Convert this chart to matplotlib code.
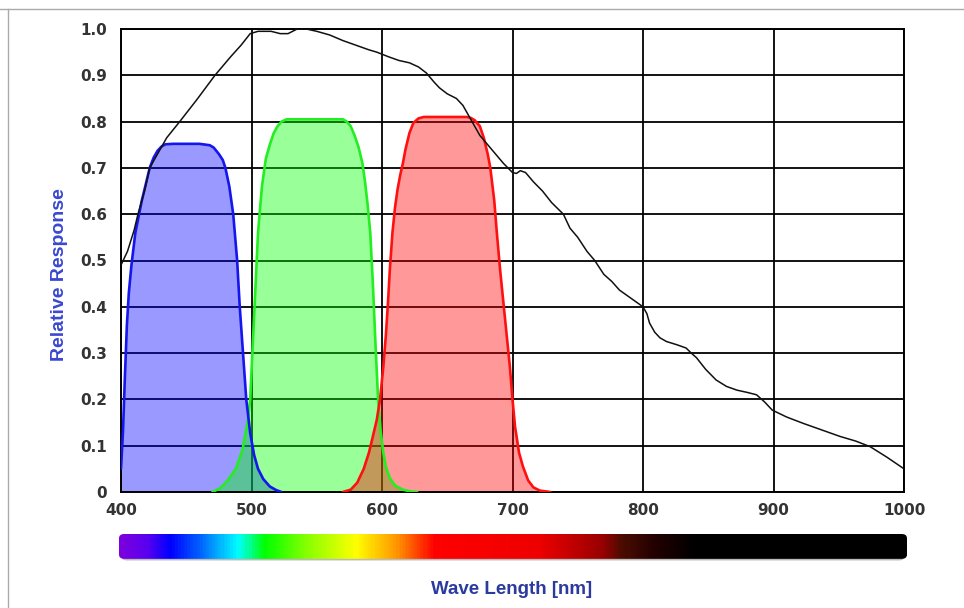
import numpy as np
import matplotlib
matplotlib.use("Agg")
import matplotlib.pyplot as plt
from matplotlib.colors import LinearSegmentedColormap
from matplotlib.patches import FancyBboxPatch
from matplotlib.lines import Line2D

# ---------------- data ----------------
blue_wl = [400, 401.5, 403, 404.5, 406, 408, 411, 416, 422, 425, 428, 431, 434, 440, 460, 468,
           471, 475, 478, 480, 483, 486, 489, 491, 494, 496, 499, 502, 505, 509, 514, 519, 523]
blue_val = [0.05, 0.13, 0.25, 0.36, 0.43, 0.49, 0.56, 0.63, 0.70, 0.722, 0.737, 0.746, 0.751,
            0.752, 0.752, 0.749, 0.744, 0.73, 0.717, 0.70, 0.66, 0.60, 0.50, 0.40, 0.28, 0.20,
            0.127, 0.08, 0.05, 0.028, 0.012, 0.004, 0.0]

green_wl = [470, 476, 482, 488, 493, 497, 499, 502, 505, 508, 511, 514, 517, 520, 523, 527,
            570, 573, 576, 579, 582, 585, 587, 589, 591, 593, 595, 597, 599, 601, 603,
            606, 610, 616, 622, 627]
green_val = [0.0, 0.008, 0.026, 0.05, 0.09, 0.15, 0.20, 0.38, 0.56, 0.66, 0.72, 0.75, 0.775,
             0.79, 0.80, 0.805, 0.805, 0.80, 0.79, 0.77, 0.745, 0.71, 0.67, 0.62, 0.56,
             0.45, 0.32, 0.20, 0.13, 0.085, 0.054, 0.03, 0.014, 0.005, 0.001, 0.0]

red_wl = [570, 576, 581, 586, 590, 593, 596, 598.5, 601, 603, 604.6, 606, 608, 610, 612, 614,
          616, 618, 621, 624, 628, 632, 665, 668, 671, 675, 678, 681, 683, 686, 688, 690.5,
          693, 695.5, 698, 700, 702, 705, 708, 712, 716, 721, 729]
red_val = [0.0, 0.005, 0.02, 0.05, 0.085, 0.12, 0.156, 0.20, 0.27, 0.34, 0.41, 0.48, 0.56,
           0.615, 0.655, 0.685, 0.71, 0.74, 0.775, 0.797, 0.807, 0.81, 0.81, 0.808, 0.803,
           0.79, 0.765, 0.73, 0.70, 0.63, 0.56, 0.48, 0.41, 0.34, 0.27, 0.20, 0.14, 0.085,
           0.055, 0.025, 0.01, 0.003, 0.0]

sensor_wl = [400, 405, 410, 413, 418, 422, 428, 435, 445, 458, 472, 484, 492, 499, 505, 515,
             522, 528, 535, 542, 550, 560, 570, 580, 590, 596, 605, 613, 621, 628, 634, 640,
             644, 650, 657, 662, 667, 675, 684, 693, 700, 703, 706, 710, 716, 723, 730, 739,
             744, 750, 757, 763, 770, 776, 782, 790, 800, 803, 805, 809, 813, 818, 826, 833,
             837, 841, 848, 856, 864, 872, 880, 887, 893, 899, 910, 923, 937, 951, 963, 974,
             987, 999]
sensor_val = [0.49, 0.52, 0.565, 0.60, 0.65, 0.70, 0.73, 0.765, 0.80, 0.847, 0.90, 0.94, 0.965,
              0.99, 0.995, 0.995, 0.99, 0.99, 1.0, 1.0, 0.995, 0.987, 0.975, 0.965, 0.955,
              0.95, 0.94, 0.932, 0.927, 0.918, 0.905, 0.885, 0.873, 0.86, 0.85, 0.835, 0.81,
              0.77, 0.74, 0.71, 0.69, 0.688, 0.694, 0.69, 0.67, 0.65, 0.625, 0.60, 0.57, 0.55,
              0.52, 0.50, 0.47, 0.455, 0.436, 0.42, 0.40, 0.385, 0.365, 0.345, 0.333, 0.325,
              0.318, 0.311, 0.30, 0.29, 0.265, 0.242, 0.228, 0.22, 0.215, 0.21, 0.195, 0.177,
              0.162, 0.148, 0.134, 0.12, 0.11, 0.098, 0.075, 0.052]

x_ticks = [400, 500, 600, 700, 800, 900, 1000]
x_ticklabels = ["400", "500", "600", "700", "800", "900", "1000"]
y_ticks = [0, 0.1, 0.2, 0.3, 0.4, 0.5, 0.6, 0.7, 0.8, 0.9, 1.0]
y_ticklabels = ["0", "0.1", "0.2", "0.3", "0.4", "0.5", "0.6", "0.7", "0.8", "0.9", "1.0"]

spectrum_wl = [400, 420, 438, 460, 490, 510, 540, 580, 610, 640, 720, 768, 784, 810, 840, 1000]
spectrum_colors = ["#7a00dd", "#5a00f0", "#0000ff", "#0060ff", "#00ffff", "#00ff00", "#80ff00",
                   "#ffff00", "#ff9900", "#ff0000", "#ee0000", "#990000", "#4a0c00", "#200000",
                   "#000000", "#000000"]

# ---------------- figure ----------------
plt.rcParams['font.family'] = ['Liberation Sans', 'DejaVu Sans']
fig = plt.figure(figsize=(9.64, 6.08), dpi=100)

ax = fig.add_axes([121 / 964, 1 - 492 / 608, (904 - 121) / 964, (492 - 29) / 608])
ax.set_xlim(400, 1000)
ax.set_ylim(0, 1.0)

ax.grid(True, color="black", linewidth=1.3, zorder=0)
ax.set_axisbelow(True)

ax.fill_between(blue_wl, blue_val, 0, color=(0, 0, 1), alpha=0.4, linewidth=0, zorder=2)
ax.fill_between(green_wl, green_val, 0, color=(0, 1, 0), alpha=0.4, linewidth=0, zorder=2)
ax.fill_between(red_wl, red_val, 0, color=(1, 0, 0), alpha=0.4, linewidth=0, zorder=2)
line_kw = dict(linewidth=1.9, zorder=3, solid_capstyle='round', solid_joinstyle='round')
ax.plot(green_wl, green_val, color="#22ee22", **line_kw)
ax.plot(blue_wl, blue_val, color="#1515ee", **line_kw)
ax.plot(red_wl, red_val, color="#ff1010", **line_kw)
ax.plot(sensor_wl, sensor_val, color="#111111", linewidth=1.1, zorder=4,
        solid_joinstyle='round')

ax.set_xticks(x_ticks)
ax.set_xticklabels(x_ticklabels)
ax.set_yticks(y_ticks)
ax.set_yticklabels(y_ticklabels)
ax.tick_params(axis='x', length=0, pad=8)
ax.tick_params(axis='y', length=0, pad=10)
for lab in ax.get_xticklabels() + ax.get_yticklabels():
    lab.set_family('DejaVu Sans')
    lab.set_fontsize(11)
    lab.set_fontweight('bold')
    lab.set_color('#333333')
for sp in ax.spines.values():
    sp.set_linewidth(1.4)
    sp.set_color("black")

fig.text(60 / 964, 1 - 275 / 608, "Relative Response", rotation=90, ha="center", va="center",
         fontsize=14, fontweight='bold', color="#3a48d0")
fig.text(512 / 964, 1 - 590 / 608, "Wave Length [nm]", ha="center", va="center",
         fontsize=13.5, fontweight='bold', color="#2b3a9e")

# spectrum bar
cax = fig.add_axes([119 / 964, 1 - 561 / 608, (907 - 119) / 964, 27 / 608])
cax.set_xlim(400, 1000)
cax.set_ylim(0, 1)
cax.axis('off')
pos = [(w - 400) / 600 for w in spectrum_wl]
cmap = LinearSegmentedColormap.from_list("spec", list(zip(pos, spectrum_colors)))
grad = np.linspace(0, 1, 800).reshape(1, -1)
shadow = FancyBboxPatch((402, 0.02), 596, 0.9, boxstyle="round,pad=0,rounding_size=4",
                        mutation_aspect=0.04, facecolor="#bbbbbb", edgecolor="none",
                        transform=cax.transData, zorder=0)
cax.add_patch(shadow)
im = cax.imshow(grad, cmap=cmap, aspect='auto', extent=(400, 1000, 0.08, 1.0), zorder=1)
clip = FancyBboxPatch((400, 0.08), 600, 0.92, boxstyle="round,pad=0,rounding_size=4",
                      mutation_aspect=0.04, facecolor="none", edgecolor="none",
                      transform=cax.transData)
cax.add_patch(clip)
im.set_clip_path(clip)

# page border lines
fig.add_artist(Line2D([0, 1], [1 - 9 / 608, 1 - 9 / 608], color="#aaaaaa", linewidth=1.0,
                      transform=fig.transFigure))
fig.add_artist(Line2D([8 / 964, 8 / 964], [0, 1 - 9 / 608], color="#aaaaaa", linewidth=1.0,
                      transform=fig.transFigure))

fig.savefig("out.png", dpi=100, facecolor="white")
